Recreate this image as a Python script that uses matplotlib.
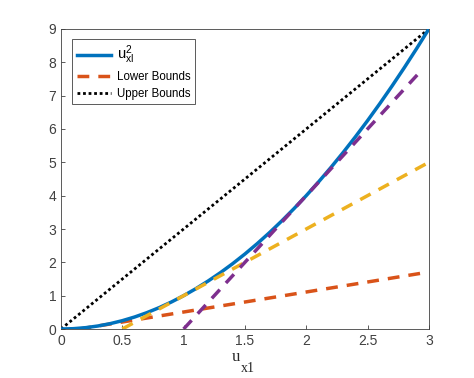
import matplotlib
matplotlib.use("Agg")
import matplotlib.pyplot as plt

plt.rcParams['font.family'] = ['Liberation Sans', 'DejaVu Sans']
plt.rcParams['mathtext.default'] = 'regular'

# curve u^2, values
u = [0.0, 0.1, 0.2, 0.3, 0.4, 0.5, 0.6, 0.7, 0.8, 0.9, 1.0, 1.1, 1.2, 1.3, 1.4, 1.5,
     1.6, 1.7, 1.8, 1.9, 2.0, 2.1, 2.2, 2.3, 2.4, 2.5, 2.6, 2.7, 2.8, 2.9, 3.0]
u_sq = [0.0, 0.01, 0.04, 0.09, 0.16, 0.25, 0.36, 0.49, 0.64, 0.81, 1.0, 1.21, 1.44, 1.69,
        1.96, 2.25, 2.56, 2.89, 3.24, 3.61, 4.0, 4.41, 4.84, 5.29, 5.76, 6.25, 6.76, 7.29,
        7.84, 8.41, 9.0]

# lower bound segments (start/end points)
low1_x = [0.15, 3.0]
low1_y = [0.0, 1.71]
low2_x = [0.5, 3.0]
low2_y = [0.0, 5.0]
low3_x = [1.0, 2.95]
low3_y = [0.0, 7.8]

# upper bound
up_x = [0.0, 3.0]
up_y = [0.0, 9.0]

fig = plt.figure(figsize=(4.74, 3.78), dpi=100)
ax = fig.add_axes([0.1287, 0.1296, 0.776, 0.7937])

dash = (0, (3.4, 2.6))
ax.plot(u, u_sq, color='#0072BD', lw=2.5, label=r'u$_{xl}^{2}$', zorder=3)
ax.plot(low1_x, low1_y, color='#D95319', lw=2.5, ls=dash, label='Lower Bounds')
ax.plot(low2_x, low2_y, color='#EDB120', lw=2.5, ls=dash, zorder=4)
ax.plot(low3_x, low3_y, color='#7E2F8E', lw=2.5, ls=dash, zorder=4)
ax.plot(up_x, up_y, color='black', lw=2, ls=(0, (1, 1)), label='Upper Bounds')

ax.set_xlim(0, 3)
ax.set_ylim(0, 9)
ax.set_xticks([0, 0.5, 1, 1.5, 2, 2.5, 3])
ax.set_xticklabels(['0', '0.5', '1', '1.5', '2', '2.5', '3'])
ax.set_yticks(range(10))
ax.tick_params(direction='in', length=3, labelsize=10, colors='#404040', width=0.6)
for s in ax.spines.values():
    s.set_color('#404040')
    s.set_linewidth(0.6)

# x label: 'u' with a low subscript 'x1', serif like the original
fig.text(240 / 474, 1 - 357 / 378, 'u', family='Liberation Serif', fontsize=12,
         color='#262626', ha='right', va='center')
fig.text(241 / 474, 1 - 369 / 378, 'x1', family='Liberation Serif', fontsize=10,
         color='#262626', ha='left', va='center')

leg = ax.legend(loc='upper left', bbox_to_anchor=(0.015, 0.985), fontsize=8.3,
                fancybox=False, framealpha=1, edgecolor='#404040',
                handlelength=3.0, handletextpad=0.5, borderpad=0.4, labelspacing=0.4)
leg.get_frame().set_linewidth(0.6)
leg.get_texts()[0].set_fontsize(10.5)

fig.savefig('out.png', dpi=100)
